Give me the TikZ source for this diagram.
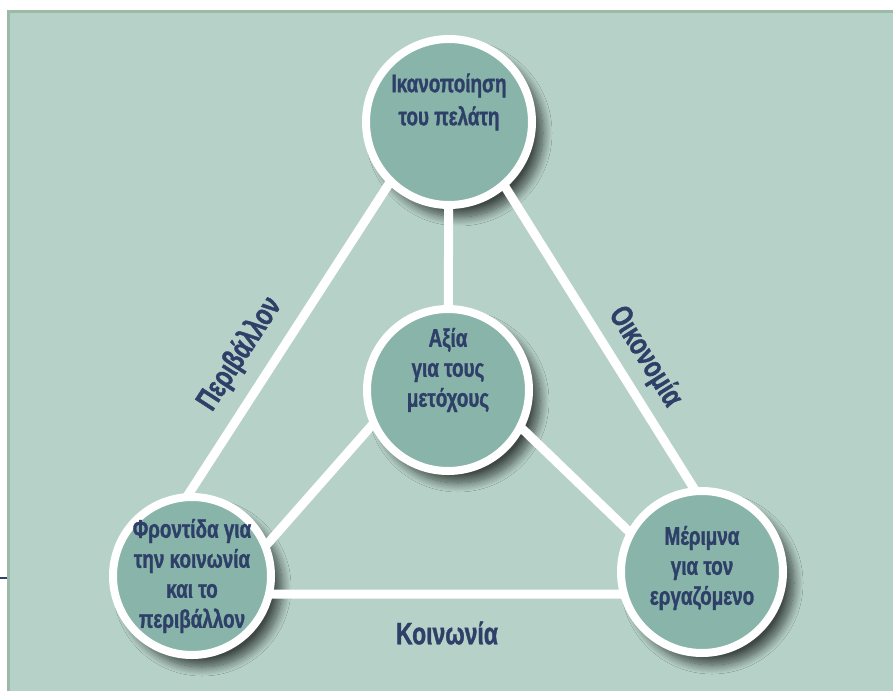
\documentclass[tikz,border=0pt]{standalone}
\usepackage{fontspec}
\setmainfont[FakeStretch=0.74, BoldFont={Liberation Sans Bold},
    BoldFeatures={FakeStretch=0.74, FakeBold=1.2}]{Liberation Sans}
\usetikzlibrary{shadows.blur}

\definecolor{bgteal}{HTML}{B6D1C8}
\definecolor{frameteal}{HTML}{9BBBA7}
\definecolor{discteal}{HTML}{88B4A9}
\definecolor{inknavy}{HTML}{2E3F68}

\begin{document}
\begin{tikzpicture}[x=1pt, y=-1pt,
    disc/.style={circle, draw=white, line width=8pt, fill=discteal,
        minimum size=162pt, inner sep=0pt},
    shade/.style={blur shadow={shadow xshift=10pt, shadow yshift=-11pt,
        shadow opacity=65, shadow blur radius=9pt, shadow blur steps=14}},
    link/.style={draw=white, line width=9pt},
    caption/.style={text=inknavy, align=center,
        font=\bfseries\fontsize{25.5}{30}\selectfont},
    side/.style={text=inknavy, font=\bfseries\fontsize{31}{30}\selectfont}]

        \useasboundingbox (0,0) rectangle (893,690);

        % background panel
        \fill[bgteal] (7,10) rectangle (900,700);
        \draw[frameteal, line width=3pt] (8.5,700) -- (8.5,11.5) -- (900,11.5);
        \draw[inknavy, line width=2pt] (0,578) -- (7,578);

        % shadows under everything
        \path[shade] (449,122) circle[radius=84];
        \path[shade] (448,390) circle[radius=82];
        \path[shade] (192,576) circle[radius=80];
        \path[shade] (702,572) circle[radius=82];

        \coordinate (A) at (447,94);
        \coordinate (B) at (124,594);
        \coordinate (C) at (760,594);
        \coordinate (P) at (403,390);
        \coordinate (Q) at (240,575);
        \coordinate (S) at (482,390);
        \coordinate (U) at (671,572);

        % triangle and spokes
        \draw[link] (A) -- (B) -- (C) -- cycle;
        \draw[link] (P) -- (Q);
        \draw[link] (S) -- (U);
        \draw[link] (449,122) -- (448,390);

        \node[disc, minimum size=166pt] (pelatis) at (449,122) {};
        \node[disc] (metoxoi) at (448,390) {};
        \node[disc, minimum size=158pt] (koinonia) at (192,576) {};
        \node[disc] (ergazomenoi) at (702,572) {};

        \node[caption, font=\bfseries\fontsize{25.5}{33}\selectfont]
            at ([yshift=20pt]pelatis) {Ικανοποίηση\\του πελάτη};
        \node[caption] at ([yshift=20pt]metoxoi) {Αξία\\για τους\\μετόχους};
        \node[caption] at (koinonia) {Φροντίδα για\\την κοινωνία\\και το\\περιβάλλον};
        \node[caption] at ([yshift=4pt]ergazomenoi) {Μέριμνα\\για τον\\εργαζόμενο};

        \node[side, rotate=57] (env) at (240,354) {Περιβάλλον};
        \node[side, rotate=-58] (econ) at (645,357) {Οικονομία};
        \node[side] (soc) at (447,633) {Κοινωνία};
    \end{tikzpicture}
\end{document}
